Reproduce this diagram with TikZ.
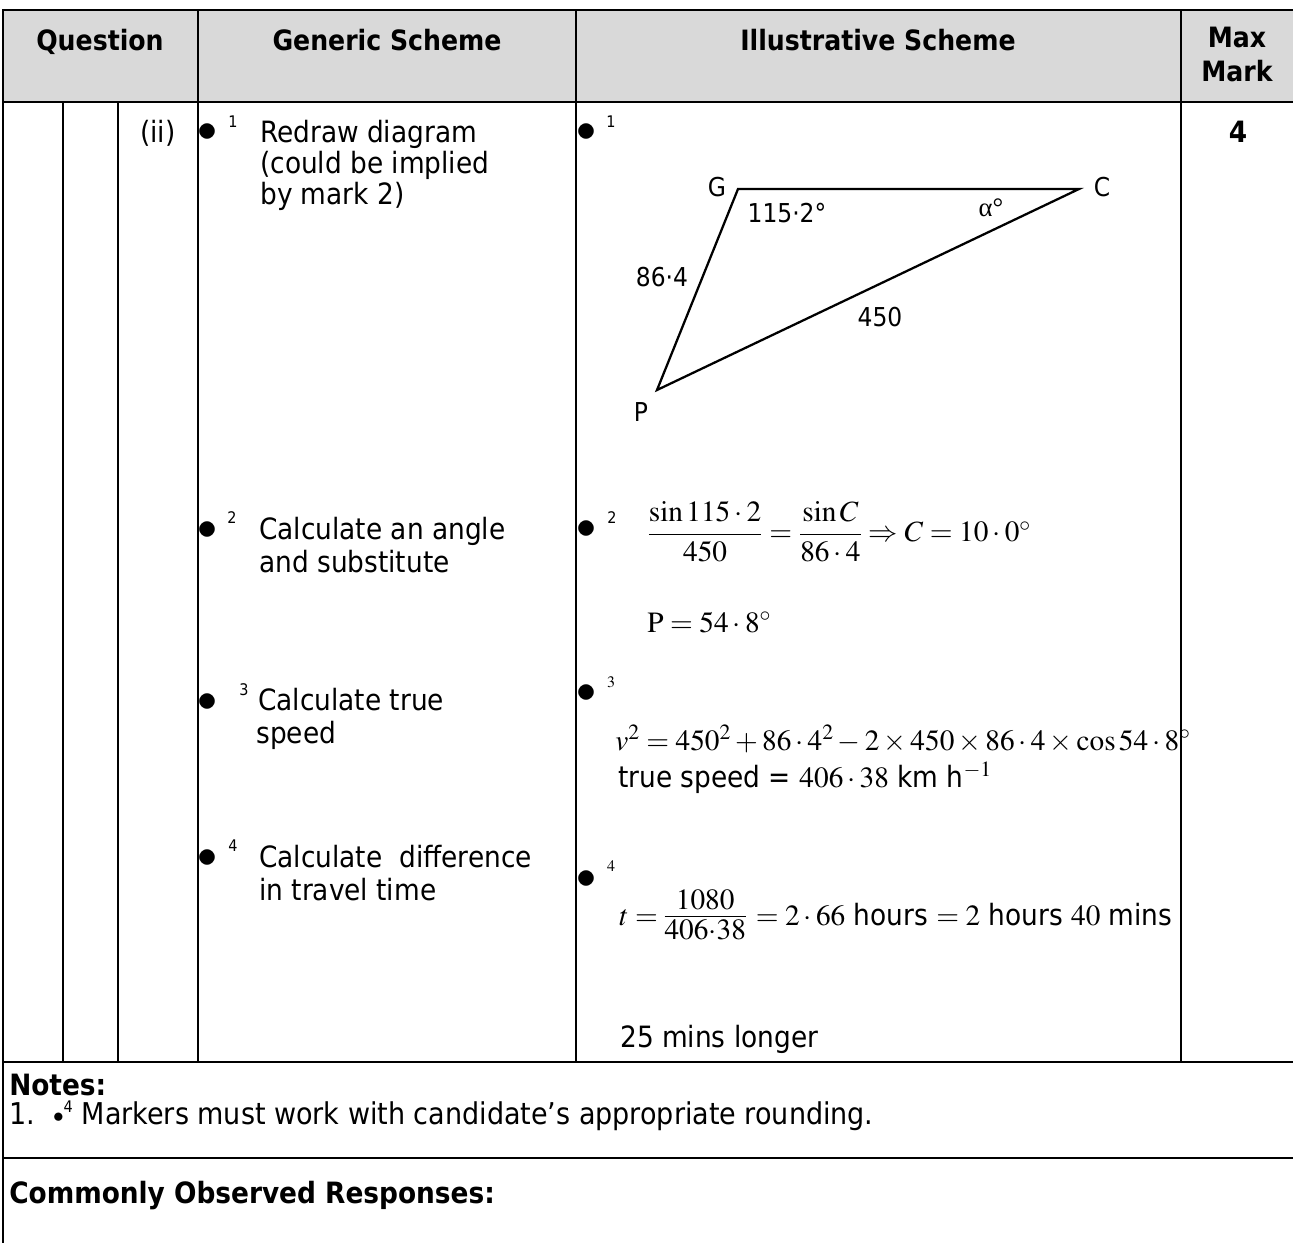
\documentclass[tikz,border=0pt]{standalone}
\usepackage{amsmath}
\usepackage{mathptmx}
\usepackage[no-math]{fontspec}
\setmainfont{DejaVu Sans Condensed}
\newfontfamily\tms{Liberation Serif}
\definecolor{hdr}{HTML}{D9D9D9}
\newcommand{\smfrac}[2]{\vcenter{\hbox{\renewcommand{\arraystretch}{0.95}\begin{tabular}{@{}c@{}}$#1$\\[-3pt]\hline$#2$\end{tabular}}}}
\begin{document}
\begin{tikzpicture}[x=0.75pt,y=-0.75pt,
  txt/.style={anchor=base west,inner sep=0pt,font=\fontsize{22}{26}\selectfont},
  ctr/.style={anchor=base,inner sep=0pt,font=\fontsize{22}{26}\selectfont},
  hd/.style={anchor=base,inner sep=0pt,font=\fontsize{21}{25}\selectfont\bfseries},
  bul/.style={anchor=center,inner sep=0pt,font=\fontsize{30}{30}\selectfont},
  sup/.style={anchor=center,inner sep=0pt,font=\fontsize{12}{14}\selectfont},
  lab/.style={anchor=center,inner sep=0pt,font=\fontsize{19.5}{22}\selectfont},
  eq/.style={anchor=west,inner sep=0pt,font=\fontsize{22}{26}\selectfont},
  rule/.style={line width=1.5pt},
  thick rule/.style={line width=2pt},
  tri/.style={line width=1.7pt,line join=miter}]
\useasboundingbox (0,0) rectangle (1293,1243);
\fill[white] (0,0) rectangle (1293,1243);
% header
\fill[hdr] (3,10) rectangle (1293,102);
\draw[rule] (2,10) -- (1293,10);
\draw[rule] (3,102) -- (1293,102);
\draw[rule] (3,10) -- (3,1243);
\foreach \xx in {198,576,1181} \draw[rule] (\xx,10) -- (\xx,1062);
\foreach \xx in {63,118} \draw[rule] (\xx,102) -- (\xx,1062);
\draw[thick rule] (3,1062) -- (1293,1062);
\draw[thick rule] (3,1158) -- (1293,1158);
\node[hd] (hq) at (100,50) {Question};
\node[hd] (hg) at (387,50) {Generic Scheme};
\node[hd] (hi) at (878,50) {Illustrative Scheme};
\node[hd] (hm1) at (1237,47) {Max};
\node[hd] (hm2) at (1237,81) {Mark};
% question column
\node[ctr] (qii) at (158,142) {(ii)};
\node[hd,font=\fontsize{22}{26}\selectfont\bfseries] (mk) at (1238,142) {4};
% generic scheme
\node[bul] (gb1) at (207,133) {$\bullet$};
\node[sup] (gs1) at (233,122) {1};
\node[txt] (g1a) at (260,142) {Redraw diagram};
\node[txt] (g1b) at (260,173) {(could be implied};
\node[txt] (g1c) at (260,204) {by mark 2)};
\node[bul] (gb2) at (207,531) {$\bullet$};
\node[sup] (gs2) at (232,518) {2};
\node[txt] (g2a) at (259,539) {Calculate an angle};
\node[txt] (g2b) at (259,572) {and substitute};
\node[bul] (gb3) at (207,703) {$\bullet$};
\node[sup] (gs3) at (244,690) {3};
\node[txt] (g3a) at (258,710) {Calculate true};
\node[txt] (g3b) at (256,743) {speed};
\node[bul] (gb4) at (207,859) {$\bullet$};
\node[sup] (gs4) at (233,846) {4};
\node[txt] (g4a) at (259,867) {Calculate\ \ difference};
\node[txt] (g4b) at (259,900) {in travel time};
% illustrative scheme
\node[bul] (ib1) at (586,133) {$\bullet$};
\node[sup] (is1) at (611,122) {1};
\coordinate (G) at (738,189);
\coordinate (C) at (1079,189);
\coordinate (P) at (657,390);
\draw[tri] (G) -- (C) -- (P) -- cycle;
\node[lab] (lG) at (717,187) {G};
\node[lab] (lC) at (1102,187) {C};
\node[lab] (lP) at (641,412) {P};
\node[lab] (lang) at (787,213) {115·2°};
\node[lab,font=\fontsize{20}{22}\selectfont\tms] (lal) at (991,208) {α°};
\node[lab] (l864) at (662,277) {86·4};
\node[lab] (l450) at (880,317) {450};
\node[bul] (ib2) at (586,530) {$\bullet$};
\node[sup] (is2) at (612,518) {2};
\node[eq] (e2) at (647,532) {$\dfrac{\sin115\cdot2}{450}=\dfrac{\sin C}{86\cdot4}\Rightarrow C=10\cdot0^{\circ}$};
\node[txt] (e2b) at (647,632) {$\mathrm{P}=54\cdot8^{\circ}$};
\node[bul] (ib3) at (586,694) {$\bullet$};
\node[sup] (is3) at (611,682) {$3$};
\node[txt] (e3) at (615,750) {$v^2=450^2+86\cdot4^2-2\times450\times86\cdot4\times\cos54\cdot8^{\circ}$};
\node[txt] (e3b) at (618,787) {true speed = $406\cdot38$ km h$^{-1}$};
\node[bul] (ib4) at (586,880) {$\bullet$};
\node[sup] (is4) at (611,866) {$4$};
\node[eq] (e4) at (619,918) {$t=\smfrac{1080}{406{\cdot}38}\,=2\cdot66$ hours $=2$ hours $40$ mins};
\node[txt] (e4b) at (620,1047) {25 mins longer};
% notes
\node[txt,font=\fontsize{22}{26}\selectfont\bfseries] (nt) at (9,1095) {Notes:};
\node[txt,font=\fontsize{22.5}{26}\selectfont] (n1) at (9,1124) {1.\hspace{0.6em}{\fontsize{16}{16}\selectfont\raisebox{1pt}{$\bullet$}}\raisebox{8.5pt}{\fontsize{12}{12}\selectfont 4}\hspace{0.3em}Markers must work with candidate’s appropriate rounding.};
\node[txt,font=\fontsize{22}{26}\selectfont\bfseries] (cor) at (9,1203) {Commonly Observed Responses:};
\end{tikzpicture}
\end{document}
